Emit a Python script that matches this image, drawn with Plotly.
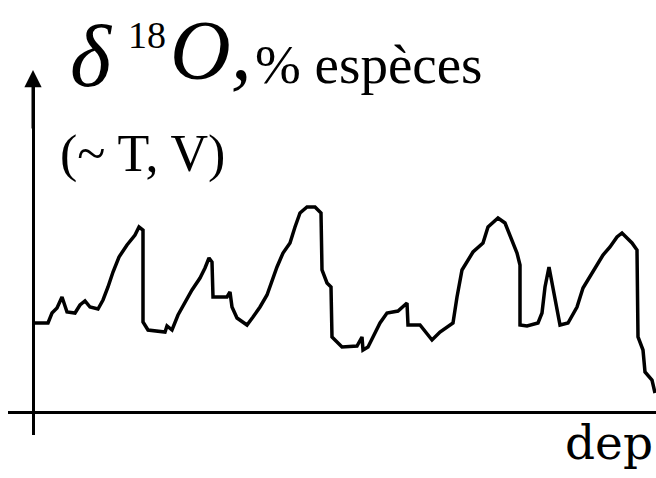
import plotly.graph_objects as go

# depth (arbitrary units) and delta18O (arbitrary units)
depth = [2, 15, 19, 24, 29, 34, 42, 47, 52, 57, 65, 70, 75, 80, 86, 94, 102, 106, 110, 110,
         115, 132, 134, 139, 145, 152, 159, 167, 172, 176, 179, 180, 194, 197, 199, 204, 214, 220,
         227, 234, 239, 244, 250, 257, 262, 267, 274, 282, 288, 289, 294, 298, 299, 309, 324, 329,
         330, 335, 340, 347, 354, 365, 374, 375, 387, 399, 407, 420, 424, 429, 440, 450, 455, 465,
         472, 479, 484, 487, 487, 494, 505, 509, 512, 516, 518, 520, 524, 527, 535, 544, 550, 560,
         570, 577, 584, 589, 599, 604, 605, 610, 612, 619, 622]
d18o = [89, 89, 99, 104, 115, 100, 99, 107, 111, 105, 103, 112, 125, 140, 155, 167, 177, 185, 182, 90,
        82, 80, 86, 82, 97, 110, 122, 134, 144, 154, 150, 115, 115, 120, 105, 94, 87, 95,
        105, 117, 132, 145, 159, 169, 185, 199, 205, 205, 199, 142, 129, 125, 75, 65, 66, 75,
        62, 65, 75, 89, 99, 101, 109, 87, 87, 72, 80, 89, 115, 142, 160, 169, 185, 194,
        189, 172, 159, 147, 87, 86, 89, 99, 125, 145, 134, 127, 105, 87, 89, 105, 124, 140,
        157, 165, 175, 179, 169, 162, 75, 62, 40, 32, 19]

W, H = 656, 478
ML, MR, MT, MB = 8, 0, 87, 43
PW, PH = W - ML - MR, H - MT - MB


def px(x):
    return (x - ML) / PW


def py(y):
    return (H - MB - y) / PH


fig = go.Figure()
fig.add_trace(go.Scatter(x=depth, y=d18o, mode="lines",
                         line=dict(color="black", width=3.5), hoverinfo="skip"))

serif = "Liberation Serif"
ann = []
# arrow head of the vertical axis
ann.append(dict(x=0, y=py(70), xref="x", yref="paper", ax=0, ay=60, axref="pixel", ayref="pixel",
                text="", showarrow=True, arrowhead=2, arrowsize=1.15, arrowwidth=3,
                arrowcolor="black"))


def txt(s, x, yc, size, family=serif, style="normal"):
    ann.append(dict(x=px(x), y=py(yc), xref="paper", yref="paper", text=s, showarrow=False,
                    xanchor="left", yanchor="middle",
                    font=dict(family=family, size=size, color="black", style=style)))


txt("δ", 68, 56, 88, style="italic")
txt("18", 126, 35, 38)
txt("O,", 168, 50, 84, style="italic")
txt("% espèces", 253, 64, 55)
txt("(~ T, V)", 58, 154, 52)
txt("dep", 563, 442, 47, "DejaVu Serif")

fig.update_layout(
    width=W, height=H, margin=dict(l=ML, r=MR, t=MT, b=MB),
    paper_bgcolor="white", plot_bgcolor="white", showlegend=False,
    annotations=ann,
    xaxis=dict(range=[ML - 33, W - 33], showgrid=False, showticklabels=False, ticks="",
               zeroline=True, zerolinecolor="black", zerolinewidth=3, showline=False),
    yaxis=dict(range=[412 - (H - MB), 412 - MT], showgrid=False, showticklabels=False, ticks="",
               zeroline=True, zerolinecolor="black", zerolinewidth=3, showline=False),
)
fig.write_html("out.html")
